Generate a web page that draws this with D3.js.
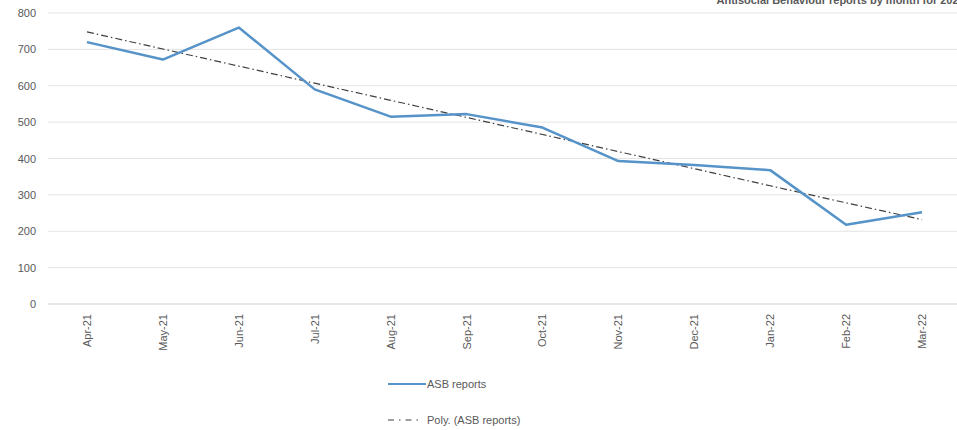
<!DOCTYPE html>
<html><head><meta charset="utf-8">
<script src="https://cdn.jsdelivr.net/npm/d3@7/dist/d3.min.js"></script>
<style>body{margin:0;background:#fff}svg{display:block}text{font-family:"Liberation Sans",Arial,sans-serif}</style>
</head><body><svg id="c" width="957" height="430"></svg>
<script>
const categories=["Apr-21","May-21","Jun-21","Jul-21","Aug-21","Sep-21","Oct-21","Nov-21","Dec-21","Jan-22","Feb-22","Mar-22"];
const asbReports=[720,672,760,590,515,522,485,393,382,368,218,252];
const polyTrend=[748,701,654,607,560,513,466,419,372,325,278,232];
const yTicks=[0,100,200,300,400,500,600,700,800];
const title="Antisocial Behaviour reports by month for 2021/22";

const svg=d3.select("#c");
const x=d3.scalePoint().domain(categories).range([49,960]).padding(0.5);
const y=d3.scaleLinear().domain([0,800]).range([304,13]);
const grey="#595959";

svg.append("g").selectAll("line").data(yTicks).join("line")
 .attr("x1",48).attr("x2",957).attr("y1",d=>y(d)).attr("y2",d=>y(d))
 .attr("stroke",d=>d===0?"#cfcfcf":"#e3e3e3").attr("stroke-width",1);

const ya=svg.append("g").attr("transform","translate(40,0)")
 .call(d3.axisLeft(y).tickValues(yTicks).tickSize(0).tickPadding(4));
ya.select(".domain").remove();
ya.selectAll("text").attr("fill",grey).attr("font-size",11).style("font-family","Liberation Sans, Arial, sans-serif");

const xa=svg.append("g").attr("transform","translate(0,304)")
 .call(d3.axisBottom(x).tickSize(0));
xa.select(".domain").remove();
xa.selectAll("text").attr("fill",grey).attr("font-size",11).style("font-family","Liberation Sans, Arial, sans-serif")
 .attr("transform","rotate(-90)").attr("text-anchor","end").attr("dx","-10").attr("dy","0.32em").attr("y",0).attr("x",0);

svg.append("path").datum(polyTrend)
 .attr("d",d3.line().x((d,i)=>x(categories[i])).y(d=>y(d)))
 .attr("fill","none").attr("stroke","#404040").attr("stroke-width",1.2).attr("stroke-dasharray","7 3 1.5 3");

svg.append("path").datum(asbReports)
 .attr("d",d3.line().x((d,i)=>x(categories[i])).y(d=>y(d)))
 .attr("fill","none").attr("stroke","#5593c8").attr("stroke-width",2.5).attr("stroke-linejoin","round");

const lg=svg.append("g");
lg.append("line").attr("x1",388).attr("x2",426).attr("y1",384).attr("y2",384).attr("stroke","#5593c8").attr("stroke-width",2);
lg.append("text").attr("x",427).attr("y",388).attr("font-size",11).attr("fill",grey).text("ASB reports");
lg.append("line").attr("x1",388).attr("x2",420).attr("y1",420).attr("y2",420).attr("stroke","#404040").attr("stroke-width",1.2).attr("stroke-dasharray","6 5 1.5 5");
lg.append("text").attr("x",427).attr("y",424).attr("font-size",11).attr("fill",grey).text("Poly. (ASB reports)");

svg.append("text").attr("x",980).attr("y",4).attr("text-anchor","end").attr("font-size",11).attr("font-weight","bold").attr("fill",grey).text(title);
</script></body></html>
